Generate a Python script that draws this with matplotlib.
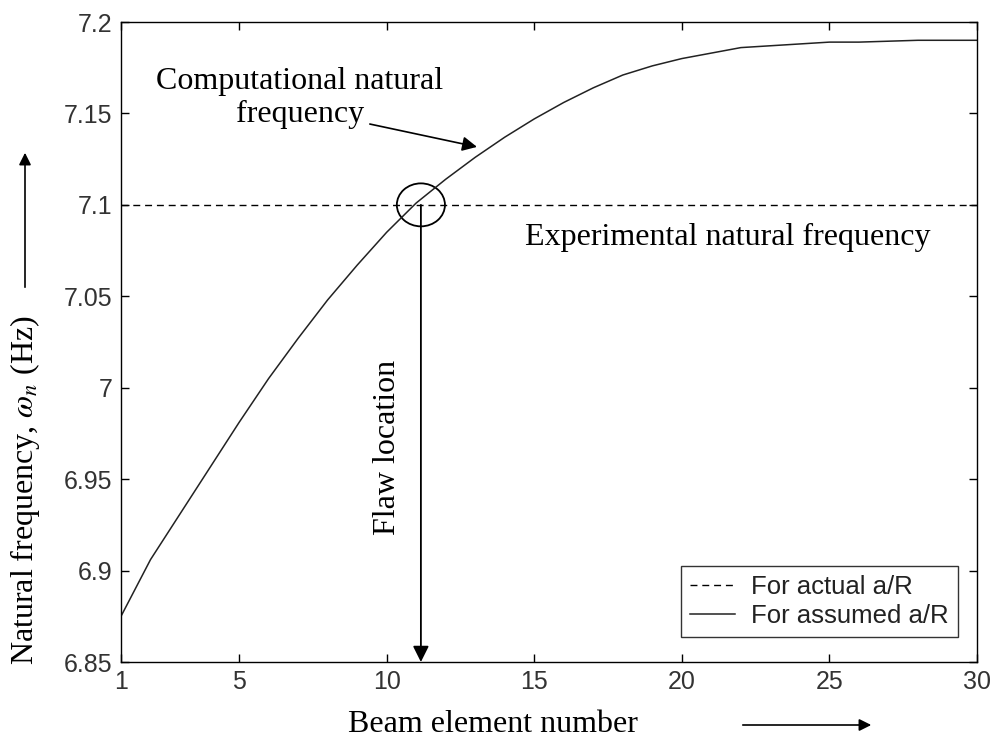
import matplotlib
matplotlib.use("Agg")
import matplotlib.pyplot as plt
from matplotlib.patches import Ellipse, FancyArrowPatch

# Data
elements = list(range(1, 31))
freq_assumed = [6.875, 6.906, 6.931, 6.956, 6.981, 7.005, 7.027, 7.048, 7.067, 7.085,
                7.101, 7.114, 7.126, 7.137, 7.147, 7.156, 7.164, 7.171, 7.176, 7.180,
                7.183, 7.186, 7.187, 7.188, 7.189, 7.189, 7.1895, 7.19, 7.19, 7.19]
freq_actual = 7.1
flaw_location = 11.16
x_ticks = [1, 5, 10, 15, 20, 25, 30]
y_ticks = [6.85, 6.9, 6.95, 7.0, 7.05, 7.1, 7.15, 7.2]
y_ticklabels = ["6.85", "6.9", "6.95", "7", "7.05", "7.1", "7.15", "7.2"]

serif = ["Liberation Serif", "DejaVu Serif"]
sans = ["Liberation Sans", "DejaVu Sans"]

fig = plt.figure(figsize=(9.92, 7.42), dpi=100)
ax = fig.add_axes([121/992, 1-662/742, (977-121)/992, (662-22)/742])

ax.plot([elements[0], elements[-1]], [freq_actual, freq_actual], color="black",
        lw=1.0, linestyle=(0, (5, 3.5)), label="For actual a/R")
ax.plot(elements, freq_assumed, color="#222222", lw=1.1, label="For assumed a/R")

ax.set_xlim(1, 30)
ax.set_ylim(6.85, 7.2)
ax.set_xticks(x_ticks)
ax.set_yticks(y_ticks)
ax.set_yticklabels(y_ticklabels)
ax.tick_params(direction="in", length=6, width=1, top=True, right=True,
               labelsize=18, colors="black", labelcolor="#333333", pad=6)
for lab in ax.get_xticklabels() + ax.get_yticklabels():
    lab.set_family(sans)
for s in ax.spines.values():
    s.set_linewidth(1.0)

leg = ax.legend(loc="lower right", bbox_to_anchor=((958-121)/856, (662-637)/640),
                prop={"family": sans, "size": 18.5}, frameon=True, fancybox=False,
                edgecolor="black", handlelength=1.75, borderpad=0.35,
                labelspacing=0.2, handletextpad=0.65, borderaxespad=0)
leg.get_frame().set_linewidth(1.0)
for t in leg.get_texts():
    t.set_color("#222222")

# Annotations
ax.text(7.06, 7.1584, "Computational natural\nfrequency", family=serif, fontsize=23,
        ha="center", va="center", linespacing=1.15)
ax.annotate("", xy=(13.06, 7.1317), xytext=(9.43, 7.1442),
            arrowprops=dict(arrowstyle="-|>", color="black", lw=1.2,
                            mutation_scale=22, shrinkA=0, shrinkB=0))
ax.text(21.56, 7.0819, "Experimental natural frequency", family=serif, fontsize=23,
        ha="center", va="center")

ax.add_patch(Ellipse((flaw_location, freq_actual), width=1.63, height=0.0235,
                     fill=False, edgecolor="black", lw=1.3))
ax.annotate("", xy=(flaw_location, 6.85), xytext=(flaw_location, freq_actual),
            arrowprops=dict(arrowstyle="-|>", color="black", lw=1.3,
                            mutation_scale=24, shrinkA=0, shrinkB=0))
ax.text(1 + (388 - 121) / 29.52, 7.2 - (447 - 22) / 1828.6, "Flaw location",
        family=serif, fontsize=23, rotation=90, ha="center", va="center")

# Axis labels with arrows
fig.text(493/992, 1-724/742, "Beam element number", family=serif, fontsize=23,
         ha="center", va="center")
fig.add_artist(FancyArrowPatch(
    (740/992, 1-725/742), (874/992, 1-725/742), transform=fig.transFigure,
    arrowstyle="-|>", mutation_scale=18, color="black", lw=1.2))

fig.text(25/992, 1-490/742, r"Natural frequency, $\omega_n$ (Hz)", family=serif,
         fontsize=23, rotation=90, ha="center", va="center",
         math_fontfamily="stix")
fig.add_artist(FancyArrowPatch(
    (25/992, 1-290/742), (25/992, 1-150/742), transform=fig.transFigure,
    arrowstyle="-|>", mutation_scale=18, color="black", lw=1.2))

fig.savefig("out.png", dpi=100)
